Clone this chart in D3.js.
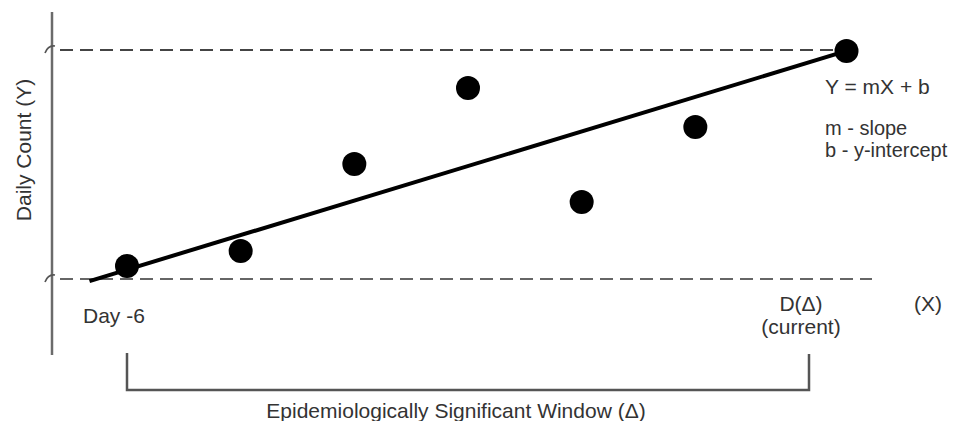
<!DOCTYPE html>
<html>
<head>
<meta charset="utf-8">
<script src="https://cdn.jsdelivr.net/npm/d3@7"></script>
<style>
  html, body { margin: 0; padding: 0; background: #fff; }
  svg { display: block; }
  text { font-family: "Liberation Sans", Arial, sans-serif; fill: #333; }
</style>
</head>
<body>
<svg id="chart" width="956" height="421"></svg>
<script>
// ---- data ----
const days   = [-6, -5, -4, -3, -2, -1, 0.33];
const counts = [0.57, 1.22, 5.02, 8.34, 3.36, 6.64, 9.96];
const fitX   = [-6.33, 0.33];
const fitY   = [-0.09, 9.96];
const refLevels = [0, 10];
const windowStart = -6;
const windowEnd = 0;
const yLabel = "Daily Count (Y)";
const xLabel = "(X)";
const startLabel = "Day -6";
const endLabel = ["D(Δ)", "(current)"];
const equationLines = ["Y = mX + b", "m - slope", "b - y-intercept"];
const windowLabel = "Epidemiologically Significant Window (Δ)";

// ---- scales ----
const x = d3.scaleLinear().domain([-6, 0]).range([127, 809]);
const y = d3.scaleLinear().domain([0, 10]).range([279, 50]);

const svg = d3.select("#chart");

// y axis (vertical gray line)
const axisX = 52;
svg.append("line")
  .attr("x1", axisX).attr("x2", axisX)
  .attr("y1", 12).attr("y2", 355)
  .attr("stroke", "#6b6b6b").attr("stroke-width", 2.5);

// tick hooks
refLevels.forEach(v => {
  const yy = y(v);
  svg.append("path")
    .attr("d", `M${axisX - 7},${yy + 3} Q${axisX - 4},${yy - 5} ${axisX + 3},${yy - 4}`)
    .attr("fill", "none").attr("stroke", "#555").attr("stroke-width", 1.6);
});

// dashed reference lines
svg.append("line")
  .attr("x1", 60).attr("x2", 836)
  .attr("y1", y(10)).attr("y2", y(10))
  .attr("stroke", "#444").attr("stroke-width", 2)
  .attr("stroke-dasharray", "13,7");
svg.append("line")
  .attr("x1", 60).attr("x2", 872)
  .attr("y1", y(0)).attr("y2", y(0))
  .attr("stroke", "#666").attr("stroke-width", 2.2)
  .attr("stroke-dasharray", "13,7");

// fit line
svg.append("path")
  .datum(fitX.map((d, i) => [d, fitY[i]]))
  .attr("d", d3.line().x(d => x(d[0])).y(d => y(d[1])))
  .attr("fill", "none").attr("stroke", "#000").attr("stroke-width", 4);

// points
svg.selectAll("circle.pt")
  .data(days.map((d, i) => ({ d, c: counts[i] })))
  .join("circle")
  .attr("class", "pt")
  .attr("cx", p => x(p.d)).attr("cy", p => y(p.c))
  .attr("r", 12).attr("fill", "#000");

// y label
svg.append("text")
  .attr("transform", "translate(31,150) rotate(-90)")
  .attr("text-anchor", "middle")
  .attr("font-size", 21)
  .text(yLabel);

// x labels
svg.append("text").attr("x", 83).attr("y", 323).attr("font-size", 21).text(startLabel);
svg.append("text").attr("x", 801).attr("y", 311).attr("text-anchor", "middle").attr("font-size", 21).text(endLabel[0]);
svg.append("text").attr("x", 801).attr("y", 334).attr("text-anchor", "middle").attr("font-size", 21).text(endLabel[1]);
svg.append("text").attr("x", 928).attr("y", 311).attr("text-anchor", "middle").attr("font-size", 21).text(xLabel);

// equation
const eqY = [94, 135, 157];
const eqSize = [21, 20, 20];
equationLines.forEach((t, i) => {
  svg.append("text").attr("x", 825).attr("y", eqY[i]).attr("font-size", eqSize[i]).text(t);
});

// bracket
svg.append("path")
  .attr("d", `M${x(windowStart)},353 V390 H${x(windowEnd)} V354`)
  .attr("fill", "none").attr("stroke", "#555").attr("stroke-width", 2.5);

svg.append("text")
  .attr("x", (x(windowStart) + x(windowEnd)) / 2 - 12)
  .attr("y", 418)
  .attr("text-anchor", "middle")
  .attr("font-size", 21)
  .text(windowLabel);
</script>
</body>
</html>
